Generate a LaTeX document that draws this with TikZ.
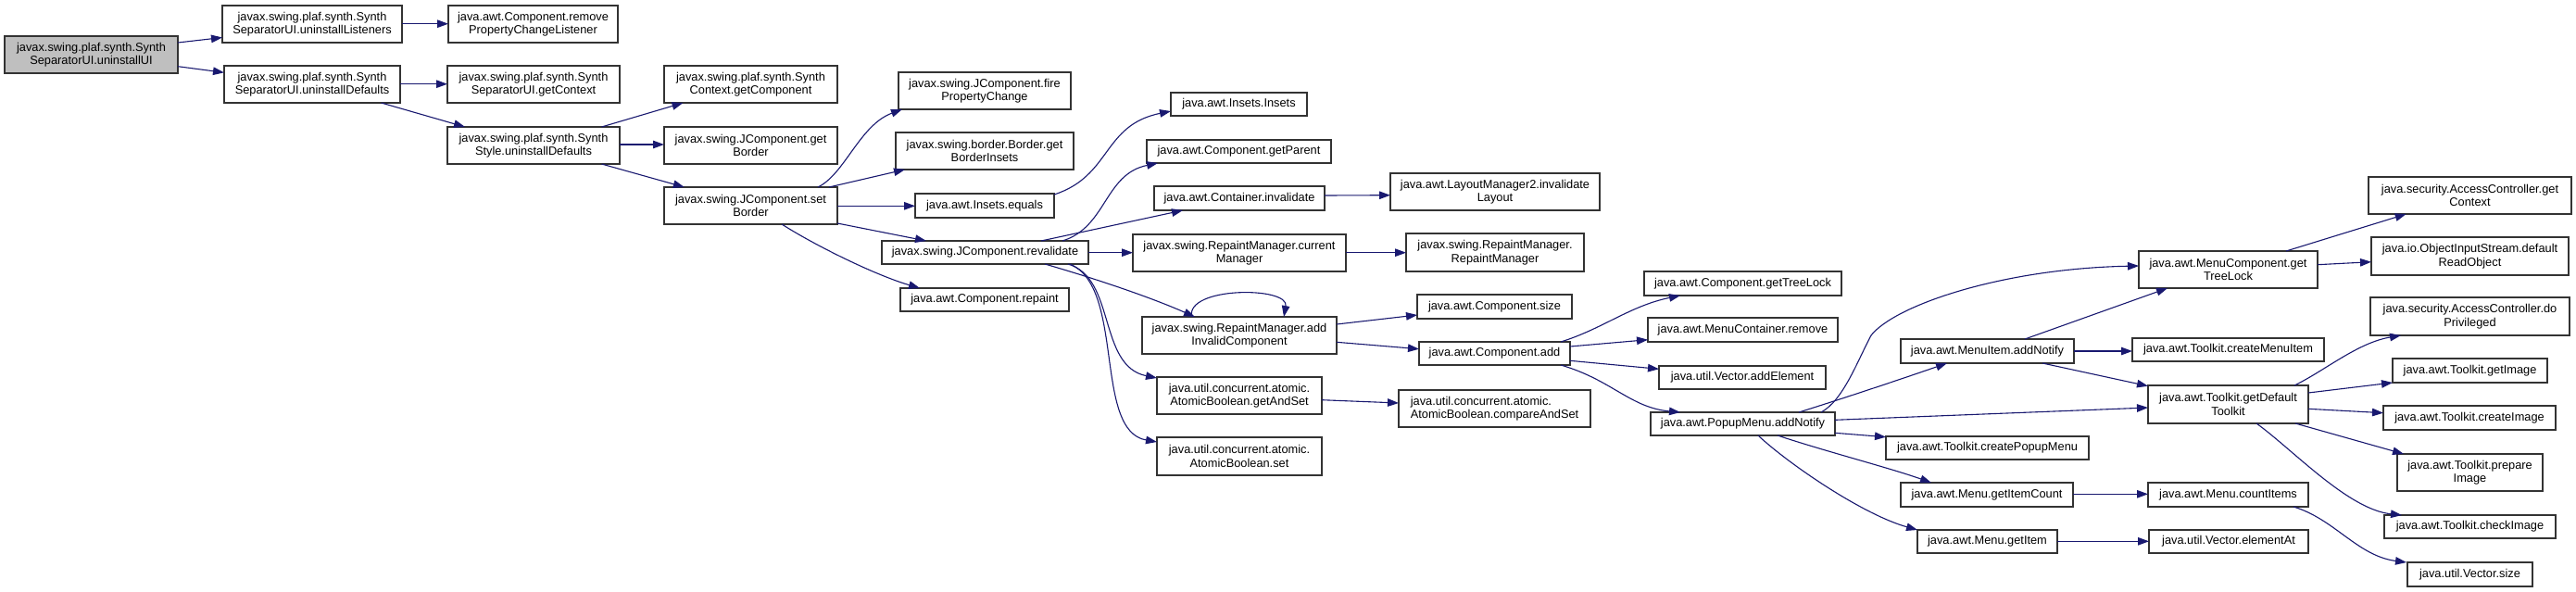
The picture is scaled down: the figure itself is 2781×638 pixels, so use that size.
\documentclass[tikz,border=0pt]{standalone}
\usepackage{fontspec}
\newfontfamily\nodefont{Liberation Sans}
\usetikzlibrary{arrows.meta,calc}
\definecolor{edgec}{HTML}{191970}
\definecolor{rootfill}{HTML}{BFBFBF}
\tikzset{
  box/.style={draw=black!80, line width=1.1pt, fill=white, inner sep=0pt, outer sep=0pt,
    align=center, anchor=north west, font={\nodefont\fontsize{12.8}{14.5}\selectfont}},
  edge/.style={draw=edgec, line width=1.1pt, -{Triangle[length=12pt,width=8.5pt]}}
}
\newcommand\bx[7][]{%
  \expandafter\xdef\csname bxX@#2\endcsname{#3}%
  \expandafter\xdef\csname bxY@#2\endcsname{#4}%
  \node[box,#1,minimum width={#5-#3},minimum height={#6-#4}] (#2) at (#3,#4) {#7};}
\newcommand\nodept[3]{($(#1.north west)+({#2-\csname bxX@#1\endcsname},{#3-\csname bxY@#1\endcsname})$)}
\begin{document}
\begin{tikzpicture}[x=1pt,y=-1pt]
\useasboundingbox[fill=white] (0,0) rectangle (2781,638);
% nodes
\bx[fill=rootfill]{root}{5}{39}{192}{79}{javax.swing.plaf.synth.Synth\\SeparatorUI.uninstallUI}
\bx{lis}{240}{6}{434}{46}{javax.swing.plaf.synth.Synth\\SeparatorUI.uninstallListeners}
\bx{rem}{484}{6}{667}{46}{java.awt.Component.remove\\PropertyChangeListener}
\bx{def}{242}{71}{432}{111}{javax.swing.plaf.synth.Synth\\SeparatorUI.uninstallDefaults}
\bx{gctx}{483}{71}{669}{111}{javax.swing.plaf.synth.Synth\\SeparatorUI.getContext}
\bx{sty}{483}{137}{669}{177}{javax.swing.plaf.synth.Synth\\Style.uninstallDefaults}
\bx{gcomp}{717}{71}{904}{111}{javax.swing.plaf.synth.Synth\\Context.getComponent}
\bx{gbor}{717}{137}{904}{177}{javax.swing.JComponent.get\\Border}
\bx{sbor}{717}{202}{904}{242}{javax.swing.JComponent.set\\Border}
\bx{fire}{970}{78}{1156}{118}{javax.swing.JComponent.fire\\PropertyChange}
\bx{bins}{967}{143}{1159}{183}{javax.swing.border.Border.get\\BorderInsets}
\bx{ieq}{988}{209}{1138}{235}{java.awt.Insets.equals}
\bx{reval}{952}{260}{1175}{285}{javax.swing.JComponent.revalidate}
\bx{rep}{972}{311}{1154}{336}{java.awt.Component.repaint}
\bx{ins}{1264}{100}{1411}{125}{java.awt.Insets.Insets}
\bx{gpar}{1238}{151}{1437}{176}{java.awt.Component.getParent}
\bx{cinv}{1246}{201}{1430}{227}{java.awt.Container.invalidate}
\bx{cman}{1223}{253}{1453}{293}{javax.swing.RepaintManager.current\\Manager}
\bx{aic}{1233}{342}{1443}{382}{javax.swing.RepaintManager.add\\InvalidComponent}
\bx{gas}{1249}{407}{1427}{447}{java.util.concurrent.atomic.\\AtomicBoolean.getAndSet}
\bx{aset}{1249}{472}{1427}{513}{java.util.concurrent.atomic.\\AtomicBoolean.set}
\bx{linv}{1501}{187}{1727}{227}{java.awt.LayoutManager2.invalidate\\Layout}
\bx{rmrm}{1518}{252}{1710}{293}{javax.swing.RepaintManager.\\RepaintManager}
\bx{csize}{1530}{318}{1697}{344}{java.awt.Component.size}
\bx{cadd}{1532}{369}{1695}{394}{java.awt.Component.add}
\bx[align=left]{cas}{1510}{421}{1717}{461}{java.util.concurrent.atomic.\\AtomicBoolean.compareAndSet}
\bx{gtl}{1775}{293}{1988}{319}{java.awt.Component.getTreeLock}
\bx{mcrem}{1779}{343}{1984}{369}{java.awt.MenuContainer.remove}
\bx{vadd}{1791}{395}{1971}{420}{java.util.Vector.addElement}
\bx{pop}{1782}{445}{1981}{470}{java.awt.PopupMenu.addNotify}
\bx{mcgtl}{2309}{271}{2502}{311}{java.awt.MenuComponent.get\\TreeLock}
\bx{mia}{2052}{366}{2239}{392}{java.awt.MenuItem.addNotify}
\bx{cpm}{2036}{471}{2255}{496}{java.awt.Toolkit.createPopupMenu}
\bx{gic}{2052}{521}{2238}{547}{java.awt.Menu.getItemCount}
\bx{gi}{2070}{572}{2221}{597}{java.awt.Menu.getItem}
\bx{cmi}{2302}{365}{2509}{390}{java.awt.Toolkit.createMenuItem}
\bx{gdt}{2319}{416}{2492}{457}{java.awt.Toolkit.getDefault\\Toolkit}
\bx{cnt}{2319}{521}{2492}{547}{java.awt.Menu.countItems}
\bx{vea}{2320}{572}{2492}{597}{java.util.Vector.elementAt}
\bx{acgc}{2557}{191}{2776}{231}{java.security.AccessController.get\\Context}
\bx{oisd}{2560}{256}{2773}{297}{java.io.ObjectInputStream.default\\ReadObject}
\bx{acdp}{2559}{321}{2774}{362}{java.security.AccessController.do\\Privileged}
\bx{tgi}{2583}{387}{2750}{413}{java.awt.Toolkit.getImage}
\bx{tci}{2573}{438}{2759}{464}{java.awt.Toolkit.createImage}
\bx{tpi}{2588}{490}{2745}{530}{java.awt.Toolkit.prepare\\Image}
\bx{tchk}{2574}{556}{2759}{581}{java.awt.Toolkit.checkImage}
\bx{vsz}{2599}{607}{2734}{633}{java.util.Vector.size}
% edges
\draw[edge] \nodept{root}{192}{46} -- \nodept{lis}{240}{40.5};
\draw[edge] \nodept{root}{192}{71.7} -- \nodept{def}{242}{78.3};
\draw[edge] \nodept{lis}{434}{25.7} -- \nodept{rem}{484}{25.7};
\draw[edge] \nodept{def}{432}{90.7} -- \nodept{gctx}{483}{90.7};
\draw[edge] \nodept{def}{411.6}{111} -- \nodept{sty}{502}{137};
\draw[edge] \nodept{sty}{649.5}{137} -- \nodept{gcomp}{737.5}{111};
\draw[edge] \nodept{sty}{669}{156} -- \nodept{gbor}{717}{156};
\draw[edge] \nodept{sty}{649.5}{177} -- \nodept{sbor}{738.8}{202};
\draw[edge] \nodept{sbor}{883}{202} .. controls (912,188) and (928,135) .. \nodept{fire}{974}{118};
\draw[edge] \nodept{sbor}{895}{202} -- \nodept{bins}{977}{183};
\draw[edge] \nodept{sbor}{904}{222.3} -- \nodept{ieq}{988}{222.3};
\draw[edge] \nodept{sbor}{904}{241} -- \nodept{reval}{1000}{260};
\draw[edge] \nodept{sbor}{844}{242} .. controls (880,265) and (945,297) .. \nodept{rep}{993}{311};
\draw[edge] \nodept{ieq}{1138}{210} .. controls (1200,190) and (1190,135) .. \nodept{ins}{1264}{120};
\draw[edge] \nodept{reval}{1147}{260} .. controls (1195,245) and (1192,188) .. \nodept{gpar}{1250}{176};
\draw[edge] \nodept{reval}{1124}{260} -- \nodept{cinv}{1277}{227};
\draw[edge] \nodept{reval}{1175}{272.7} -- \nodept{cman}{1223}{272.7};
\draw[edge] \nodept{reval}{1128}{285} .. controls (1180,300) and (1240,320) .. \nodept{aic}{1290}{342};
\draw[edge] \nodept{reval}{1153}{285} .. controls (1205,300) and (1185,395) .. \nodept{gas}{1249}{408};
\draw[edge] \nodept{reval}{1155}{285} .. controls (1215,310) and (1180,465) .. \nodept{aset}{1249}{477};
\draw[edge] \nodept{cinv}{1430}{211} -- \nodept{linv}{1501}{210.7};
\draw[edge] \nodept{cman}{1453}{272.7} -- \nodept{rmrm}{1518}{272.7};
\draw[edge] \nodept{aic}{1286.5}{342} .. controls (1280,309) and (1392,309) .. \nodept{aic}{1386}{342};
\draw[edge] \nodept{aic}{1443}{350} -- \nodept{csize}{1530}{340};
\draw[edge] \nodept{aic}{1443}{369.3} -- \nodept{cadd}{1532}{376.7};
\draw[edge] \nodept{gas}{1427}{431.7} -- \nodept{cas}{1510}{435};
\draw[edge] \nodept{cadd}{1685}{369} .. controls (1730,355) and (1760,330) .. \nodept{gtl}{1814}{319};
\draw[edge] \nodept{cadd}{1695}{374} -- \nodept{mcrem}{1779}{366.7};
\draw[edge] \nodept{cadd}{1695}{389.3} -- \nodept{vadd}{1791}{398.3};
\draw[edge] \nodept{cadd}{1685}{394} .. controls (1740,410) and (1760,440) .. \nodept{pop}{1814}{445};
\draw[edge] \nodept{pop}{1966}{445} .. controls (1990,432) and (2005,390) .. (2020,362) .. controls (2045,330) and (2160,290) .. \nodept{mcgtl}{2309}{287};
\draw[edge] \nodept{pop}{1942}{445} .. controls (1990,430) and (2050,410) .. \nodept{mia}{2102}{392};
\draw[edge] \nodept{pop}{1981}{453.3} -- \nodept{gdt}{2319}{440};
\draw[edge] \nodept{pop}{1981}{467.3} -- \nodept{cpm}{2036}{471.7};
\draw[edge] \nodept{pop}{1919}{470} .. controls (1970,487) and (2040,505) .. \nodept{gic}{2085}{521};
\draw[edge] \nodept{pop}{1898}{470} .. controls (1930,500) and (2010,555) .. \nodept{gi}{2070}{572};
\draw[edge] \nodept{mia}{2186}{366} -- \nodept{mcgtl}{2340}{311};
\draw[edge] \nodept{mia}{2239}{379} -- \nodept{cmi}{2302}{379};
\draw[edge] \nodept{mia}{2205}{392} -- \nodept{gdt}{2319}{416.7};
\draw[edge] \nodept{mcgtl}{2468}{271} -- \nodept{acgc}{2597.7}{231};
\draw[edge] \nodept{mcgtl}{2502}{285.7} -- \nodept{oisd}{2560}{282.7};
\draw[edge] \nodept{gdt}{2477}{416} .. controls (2510,400) and (2545,370) .. \nodept{acdp}{2592}{362};
\draw[edge] \nodept{gdt}{2492}{424} -- \nodept{tgi}{2583}{413};
\draw[edge] \nodept{gdt}{2492}{441.3} -- \nodept{tci}{2573}{445.7};
\draw[edge] \nodept{gdt}{2478}{457} -- \nodept{tpi}{2595}{490};
\draw[edge] \nodept{gdt}{2436}{457} .. controls (2475,485) and (2535,550) .. \nodept{tchk}{2593}{556};
\draw[edge] \nodept{gic}{2238}{533.3} -- \nodept{cnt}{2319}{533.3};
\draw[edge] \nodept{cnt}{2476}{547} .. controls (2520,560) and (2545,600) .. \nodept{vsz}{2598}{607};
\draw[edge] \nodept{gi}{2221}{584.3} -- \nodept{vea}{2320}{584.3};
\end{tikzpicture}
\end{document}
